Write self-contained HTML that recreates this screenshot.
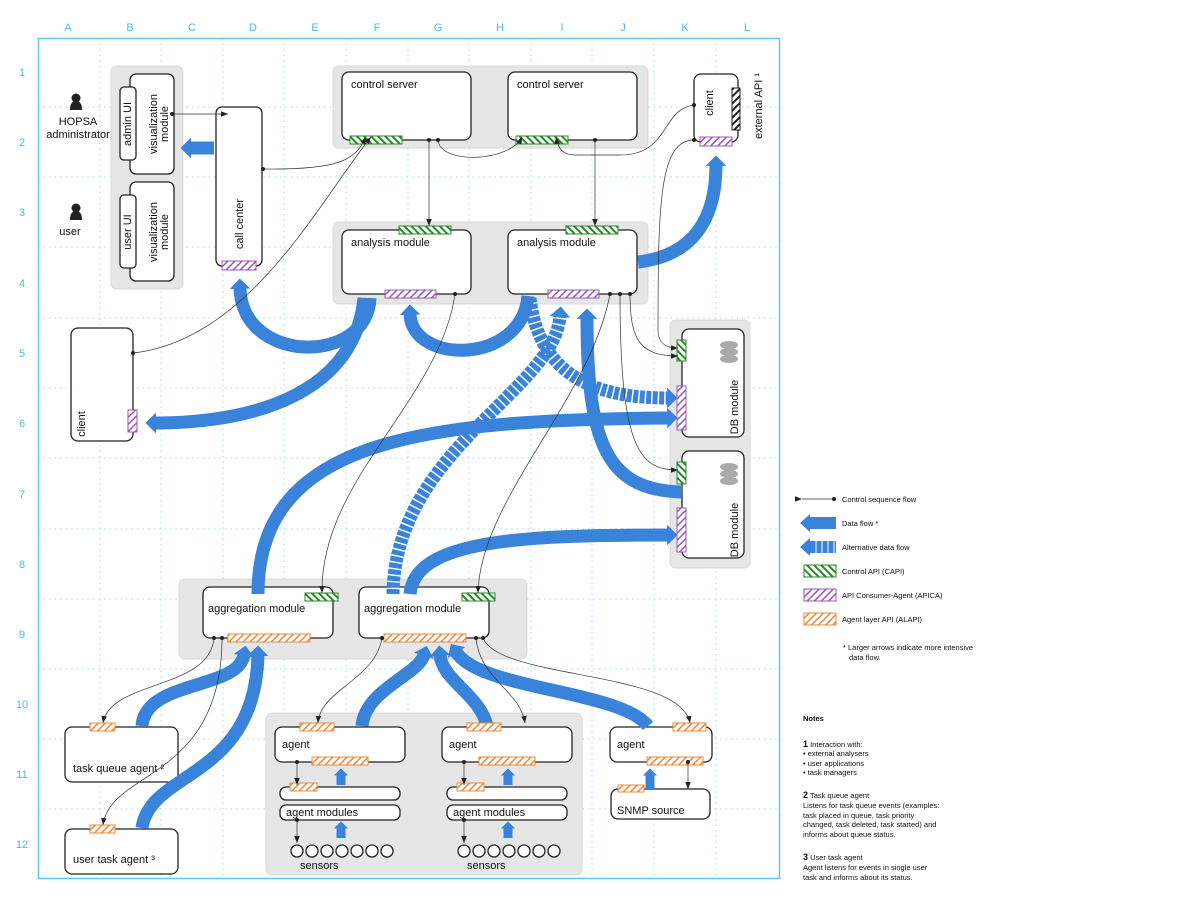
<!DOCTYPE html>
<html><head><meta charset="utf-8"><style>
html,body{margin:0;padding:0;background:#fff}
svg{display:block}
text{font-family:"Liberation Sans",sans-serif;fill:#111}
</style></head><body>
<svg width="1200" height="903" viewBox="0 0 1200 903" xmlns="http://www.w3.org/2000/svg">
<defs>
<pattern id="hg" width="5" height="5" patternUnits="userSpaceOnUse" patternTransform="rotate(-45)"><rect width="5" height="5" fill="#fff"/><rect width="2" height="5" fill="#2a8a2a"/></pattern>
<pattern id="hp" width="5" height="5" patternUnits="userSpaceOnUse" patternTransform="rotate(45)"><rect width="5" height="5" fill="#fff"/><rect width="1.5" height="5" fill="#9b59b6"/></pattern>
<pattern id="ho" width="5" height="5" patternUnits="userSpaceOnUse" patternTransform="rotate(45)"><rect width="5" height="5" fill="#fff"/><rect width="1.5" height="5" fill="#f0883a"/></pattern>
<pattern id="hk" width="5" height="5" patternUnits="userSpaceOnUse" patternTransform="rotate(45)"><rect width="5" height="5" fill="#fff"/><rect width="2" height="5" fill="#222"/></pattern>
<marker id="ba" viewBox="0 0 6 10" refX="0.5" refY="5" markerWidth="0.8" markerHeight="1.6" orient="auto" preserveAspectRatio="none"><path d="M0,0 L6,5 L0,10z" fill="#3a83da"/></marker>
<marker id="ta" viewBox="0 0 10 10" refX="10" refY="5" markerWidth="7" markerHeight="7" orient="auto" markerUnits="userSpaceOnUse"><path d="M0,1 L10,5 L0,9z" fill="#222"/></marker>
<marker id="td" viewBox="0 0 10 10" refX="5" refY="5" markerWidth="4" markerHeight="4" markerUnits="userSpaceOnUse"><circle cx="5" cy="5" r="5" fill="#222"/></marker>
</defs>

<!-- grid -->
<g stroke="#9fdcef" stroke-width="1" stroke-dasharray="1.5 4">
<line x1="100" y1="38" x2="100" y2="879"/><line x1="161" y1="38" x2="161" y2="879"/><line x1="223" y1="38" x2="223" y2="879"/><line x1="284" y1="38" x2="284" y2="879"/><line x1="346" y1="38" x2="346" y2="879"/><line x1="408" y1="38" x2="408" y2="879"/><line x1="469" y1="38" x2="469" y2="879"/><line x1="531" y1="38" x2="531" y2="879"/><line x1="592" y1="38" x2="592" y2="879"/><line x1="654" y1="38" x2="654" y2="879"/><line x1="716" y1="38" x2="716" y2="879"/>
<line x1="38" y1="107" x2="780" y2="107"/><line x1="38" y1="177" x2="780" y2="177"/><line x1="38" y1="247" x2="780" y2="247"/><line x1="38" y1="318" x2="780" y2="318"/><line x1="38" y1="388" x2="780" y2="388"/><line x1="38" y1="458" x2="780" y2="458"/><line x1="38" y1="529" x2="780" y2="529"/><line x1="38" y1="599" x2="780" y2="599"/><line x1="38" y1="669" x2="780" y2="669"/><line x1="38" y1="739" x2="780" y2="739"/><line x1="38" y1="809" x2="780" y2="809"/>
</g>
<rect x="38.5" y="38.5" width="741" height="840" fill="none" stroke="#5cc8f0" stroke-width="1.5"/>
<g font-size="11" fill="#4bbbe8" text-anchor="middle">
<text x="68" y="31" style="fill:#4bbbe8">A</text><text x="130" y="31" style="fill:#4bbbe8">B</text><text x="192" y="31" style="fill:#4bbbe8">C</text><text x="253" y="31" style="fill:#4bbbe8">D</text><text x="315" y="31" style="fill:#4bbbe8">E</text><text x="377" y="31" style="fill:#4bbbe8">F</text><text x="438" y="31" style="fill:#4bbbe8">G</text><text x="500" y="31" style="fill:#4bbbe8">H</text><text x="562" y="31" style="fill:#4bbbe8">I</text><text x="623" y="31" style="fill:#4bbbe8">J</text><text x="685" y="31" style="fill:#4bbbe8">K</text><text x="747" y="31" style="fill:#4bbbe8">L</text>
<text x="22" y="76" style="fill:#4bbbe8">1</text><text x="22" y="146" style="fill:#4bbbe8">2</text><text x="22" y="216" style="fill:#4bbbe8">3</text><text x="22" y="287" style="fill:#4bbbe8">4</text><text x="22" y="357" style="fill:#4bbbe8">5</text><text x="22" y="427" style="fill:#4bbbe8">6</text><text x="22" y="498" style="fill:#4bbbe8">7</text><text x="22" y="568" style="fill:#4bbbe8">8</text><text x="22" y="638" style="fill:#4bbbe8">9</text><text x="22" y="708" style="fill:#4bbbe8">10</text><text x="22" y="778" style="fill:#4bbbe8">11</text><text x="22" y="848" style="fill:#4bbbe8">12</text>
</g>

<!-- gray groups -->
<g fill="#e6e6e6" stroke="#d8d8d8">
<rect x="111" y="66" width="72" height="223" rx="6"/>
<rect x="333" y="66" width="315" height="82" rx="6"/>
<rect x="333" y="222" width="315" height="82" rx="6"/>
<rect x="670" y="320" width="80" height="248" rx="6"/>
<rect x="179" y="579" width="348" height="80" rx="6"/>
<rect x="266" y="713" width="316" height="162" rx="6"/>
</g>

<!-- boxes -->
<g fill="#fff" stroke="#222" stroke-width="1.3">
<rect x="130" y="74" width="44" height="100" rx="6"/>
<rect x="120" y="87" width="16" height="73" rx="4"/>
<rect x="130" y="182" width="44" height="99" rx="6"/>
<rect x="120" y="195" width="16" height="73" rx="4"/>
<rect x="216" y="107" width="46" height="159" rx="6"/>
<rect x="342" y="72" width="129" height="68" rx="7"/>
<rect x="508" y="72" width="129" height="68" rx="7"/>
<rect x="342" y="230" width="129" height="64" rx="7"/>
<rect x="508" y="230" width="129" height="64" rx="7"/>
<rect x="694" y="74" width="44" height="68" rx="7"/>
<rect x="71" y="328" width="62" height="113" rx="7"/>
<rect x="682" y="329" width="62" height="108" rx="7"/>
<rect x="682" y="451" width="62" height="107" rx="7"/>
<rect x="203" y="587" width="130" height="51" rx="7"/>
<rect x="359" y="587" width="130" height="51" rx="7"/>
<rect x="65" y="727" width="113" height="55" rx="7"/>
<rect x="65" y="829" width="113" height="45" rx="7"/>
<rect x="275" y="727" width="130" height="35" rx="7"/>
<rect x="442" y="727" width="130" height="35" rx="7"/>
<rect x="280" y="787" width="120" height="13" rx="6"/>
<rect x="280" y="805" width="120" height="15" rx="6"/>
<rect x="447" y="787" width="120" height="13" rx="6"/>
<rect x="447" y="805" width="120" height="15" rx="6"/>
<rect x="610" y="727" width="102" height="35" rx="7"/>
<rect x="611" y="789" width="99" height="30" rx="7"/>
</g>
<!-- sensors -->
<g fill="#fff" stroke="#222" stroke-width="1.3">
<circle cx="297" cy="851" r="6"/><circle cx="312" cy="851" r="6"/><circle cx="327" cy="851" r="6"/><circle cx="342" cy="851" r="6"/><circle cx="357" cy="851" r="6"/><circle cx="372" cy="851" r="6"/><circle cx="387" cy="851" r="6"/>
<circle cx="464" cy="851" r="6"/><circle cx="479" cy="851" r="6"/><circle cx="494" cy="851" r="6"/><circle cx="509" cy="851" r="6"/><circle cx="524" cy="851" r="6"/><circle cx="539" cy="851" r="6"/><circle cx="554" cy="851" r="6"/>
</g>
<!-- DB disks -->
<g fill="#aaa"><ellipse cx="729" cy="345" rx="9" ry="4"/><ellipse cx="729" cy="352" rx="9" ry="4"/><ellipse cx="729" cy="359" rx="9" ry="4"/>
<ellipse cx="729" cy="467" rx="9" ry="4"/><ellipse cx="729" cy="474" rx="9" ry="4"/><ellipse cx="729" cy="481" rx="9" ry="4"/></g>

<!-- blue data flows -->
<g fill="none" stroke="#3a83da" stroke-width="13">
<path d="M214,148 L190,148" marker-end="url(#ba)"/>
<path d="M370,298 C368,365 242,365 240,288" marker-end="url(#ba)"/>
<path d="M364,298 C355,390 260,423 155,423" marker-end="url(#ba)"/>
<path d="M528,296 C522,365 412,365 410,314" marker-end="url(#ba)"/>
<path d="M638,262 C700,255 716,210 716,165" marker-end="url(#ba)"/>
<path d="M587,495 C740,495 590,480 587,315" stroke="none"/>
<path d="M682,492 C610,490 587,450 587,318" marker-end="url(#ba)"/>
<path d="M258,594 C258,440 420,420 668,418" marker-end="url(#ba)"/>
<path d="M410,594 C415,540 520,535 668,535" marker-end="url(#ba)"/>
<path d="M142,726 C145,680 238,690 244,655" marker-end="url(#ba)"/>
<path d="M142,828 C150,770 255,780 258,655" marker-end="url(#ba)"/>
<path d="M362,726 C365,690 418,675 424,655" marker-end="url(#ba)"/>
<path d="M487,726 C480,695 442,680 440,655" marker-end="url(#ba)"/>
<path d="M648,726 C620,690 480,690 456,652" marker-end="url(#ba)"/>
</g>
<g fill="none" stroke="#3a83da" stroke-width="9">
<path d="M341,785 L341,775" marker-end="url(#ba)"/><path d="M341,838 L341,828" marker-end="url(#ba)"/>
<path d="M508,785 L508,775" marker-end="url(#ba)"/><path d="M508,838 L508,828" marker-end="url(#ba)"/>
<path d="M650,789 L650,775" marker-end="url(#ba)"/>
</g>
<g fill="none" stroke="#3a83da" stroke-width="13" stroke-dasharray="5 1.5">
<path d="M530,298 C540,385 610,398 668,398" marker-end="url(#ba)"/>
<path d="M393,594 C395,450 555,390 560,316" marker-end="url(#ba)"/>
</g>

<!-- hatch API bars -->
<g stroke-width="1">
<rect x="222" y="261" width="34" height="9" fill="url(#hp)" stroke="#9b59b6"/>
<rect x="350" y="136" width="52" height="8" fill="url(#hg)" stroke="#2a8a2a"/>
<rect x="516" y="136" width="52" height="8" fill="url(#hg)" stroke="#2a8a2a"/>
<rect x="399" y="226" width="52" height="8" fill="url(#hg)" stroke="#2a8a2a"/>
<rect x="566" y="226" width="52" height="8" fill="url(#hg)" stroke="#2a8a2a"/>
<rect x="385" y="290" width="51" height="8" fill="url(#hp)" stroke="#9b59b6"/>
<rect x="548" y="290" width="51" height="8" fill="url(#hp)" stroke="#9b59b6"/>
<rect x="732" y="88" width="8" height="42" fill="url(#hk)" stroke="#222"/>
<rect x="700" y="137" width="32" height="9" fill="url(#hp)" stroke="#9b59b6"/>
<rect x="128" y="410" width="9" height="22" fill="url(#hp)" stroke="#9b59b6"/>
<rect x="677" y="340" width="9" height="21" fill="url(#hg)" stroke="#2a8a2a"/>
<rect x="677" y="386" width="9" height="44" fill="url(#hp)" stroke="#9b59b6"/>
<rect x="677" y="462" width="9" height="22" fill="url(#hg)" stroke="#2a8a2a"/>
<rect x="677" y="508" width="9" height="44" fill="url(#hp)" stroke="#9b59b6"/>
<rect x="305" y="593" width="33" height="8" fill="url(#hg)" stroke="#2a8a2a"/>
<rect x="462" y="593" width="33" height="8" fill="url(#hg)" stroke="#2a8a2a"/>
<rect x="228" y="634" width="82" height="8" fill="url(#ho)" stroke="#f0883a"/>
<rect x="384" y="634" width="82" height="8" fill="url(#ho)" stroke="#f0883a"/>
<rect x="90" y="723" width="25" height="8" fill="url(#ho)" stroke="#f0883a"/>
<rect x="90" y="825" width="25" height="8" fill="url(#ho)" stroke="#f0883a"/>
<rect x="300" y="723" width="34" height="8" fill="url(#ho)" stroke="#f0883a"/>
<rect x="312" y="757" width="56" height="8" fill="url(#ho)" stroke="#f0883a"/>
<rect x="290" y="783" width="27" height="8" fill="url(#ho)" stroke="#f0883a"/>
<rect x="467" y="723" width="34" height="8" fill="url(#ho)" stroke="#f0883a"/>
<rect x="479" y="757" width="56" height="8" fill="url(#ho)" stroke="#f0883a"/>
<rect x="457" y="783" width="27" height="8" fill="url(#ho)" stroke="#f0883a"/>
<rect x="673" y="723" width="33" height="8" fill="url(#ho)" stroke="#f0883a"/>
<rect x="647" y="757" width="56" height="8" fill="url(#ho)" stroke="#f0883a"/>
<rect x="618" y="785" width="26" height="7" fill="url(#ho)" stroke="#f0883a"/>
</g>

<!-- thin control lines -->
<g fill="none" stroke="#333" stroke-width="0.7" marker-start="url(#td)" marker-end="url(#ta)">
<path d="M172,114 L228,114"/>
<path d="M263,169 C340,170 355,160 366,137"/>
<path d="M133,353 C250,340 320,200 371,137"/>
<path d="M429,140 L429,226"/>
<path d="M438,140 C440,165 510,162 522,137"/>
<path d="M595,140 L595,226"/>
<path d="M694,105 C660,110 670,155 620,155 L575,155 C562,155 558,148 556,137"/>
<path d="M694,140 C660,140 658,200 658,330 C658,345 668,348 678,348"/>
<path d="M630,294 C630,340 640,356 678,356"/>
<path d="M620,294 C620,450 640,470 678,470"/>
<path d="M610,294 C590,400 480,500 478,593"/>
<path d="M455,294 C440,400 320,480 322,593"/>
<path d="M214,638 C210,690 110,680 103,723"/>
<path d="M222,638 C222,780 110,770 103,825"/>
<path d="M382,638 C375,680 320,690 318,723"/>
<path d="M476,638 C480,680 520,690 525,723"/>
<path d="M483,638 C500,680 680,670 690,723"/>
<path d="M297,762 L297,785"/><path d="M297,820 L297,843"/>
<path d="M464,762 L464,785"/><path d="M464,820 L464,843"/>
<path d="M688,762 L688,789"/>
</g>

<!-- persons -->
<g fill="#222">
<circle cx="76" cy="98" r="4.5"/><path d="M70,110 Q70,101 76,101 Q82,101 82,110 Z"/>
<circle cx="76" cy="208" r="4.5"/><path d="M70,220 Q70,211 76,211 Q82,211 82,220 Z"/>
</g>

<!-- labels -->
<g font-size="11">
<text x="78" y="125" text-anchor="middle">HOPSA</text>
<text x="78" y="138" text-anchor="middle">administrator</text>
<text x="70" y="235" text-anchor="middle">user</text>
<text transform="translate(131,124) rotate(-90)" text-anchor="middle">admin UI</text>
<text transform="translate(157,124) rotate(-90)" text-anchor="middle">visualization</text>
<text transform="translate(168,124) rotate(-90)" text-anchor="middle">module</text>
<text transform="translate(131,232) rotate(-90)" text-anchor="middle">user UI</text>
<text transform="translate(157,232) rotate(-90)" text-anchor="middle">visualization</text>
<text transform="translate(168,232) rotate(-90)" text-anchor="middle">module</text>
<text transform="translate(243,224) rotate(-90)" text-anchor="middle">call center</text>
<text transform="translate(713,103) rotate(-90)" text-anchor="middle">client</text>
<text transform="translate(762,106) rotate(-90)" text-anchor="middle">external API ¹</text>
<text transform="translate(85,424) rotate(-90)" text-anchor="middle">client</text>
<text transform="translate(738,407) rotate(-90)" text-anchor="middle">DB module</text>
<text transform="translate(738,530) rotate(-90)" text-anchor="middle">DB module</text>
<text x="351" y="88">control server</text>
<text x="517" y="88">control server</text>
<text x="351" y="246">analysis module</text>
<text x="517" y="246">analysis module</text>
<text x="208" y="612">aggregation module</text>
<text x="364" y="612">aggregation module</text>
<text x="73" y="772">task queue agent ²</text>
<text x="73" y="863">user task agent ³</text>
<text x="282" y="748">agent</text>
<text x="449" y="748">agent</text>
<text x="617" y="748">agent</text>
<text x="286" y="816">agent modules</text>
<text x="453" y="816">agent modules</text>
<text x="300" y="869">sensors</text>
<text x="467" y="869">sensors</text>
<text x="617" y="814">SNMP source</text>
</g>

<!-- legend -->
<g font-size="7.5">
<line x1="802" y1="499" x2="834" y2="499" stroke="#333" stroke-width="0.8" marker-start="url(#ta)"/>
<circle cx="834" cy="499" r="2" fill="#222"/>
<text x="842" y="502">Control sequence flow</text>
<path d="M810,517 L836,517 L836,529 L810,529 L810,532 L800,523 L810,514 Z" fill="#3a83da"/>
<text x="842" y="526">Data flow *</text>
<path d="M810,541 L836,541 L836,553 L810,553 L810,556 L800,547 L810,538 Z" fill="#3a83da"/>
<g stroke="#fff" stroke-width="1"><line x1="816" y1="541" x2="816" y2="553"/><line x1="822" y1="541" x2="822" y2="553"/><line x1="828" y1="541" x2="828" y2="553"/><line x1="834" y1="541" x2="834" y2="553"/></g>
<text x="842" y="550">Alternative data flow</text>
<rect x="804" y="565" width="32" height="12" fill="url(#hg)" stroke="#2a8a2a"/>
<text x="842" y="574">Control API  (CAPI)</text>
<rect x="804" y="589" width="32" height="12" fill="url(#hp)" stroke="#9b59b6"/>
<text x="842" y="598">API Consumer-Agent (APICA)</text>
<rect x="804" y="613" width="32" height="12" fill="url(#ho)" stroke="#f0883a"/>
<text x="842" y="622">Agent layer API (ALAPI)</text>
<text x="843" y="650">*  Larger arrows indicate more intensive</text>
<text x="849" y="660">data flow.</text>
<text x="803" y="721" font-weight="bold">Notes</text>
<text x="803" y="747"><tspan font-weight="bold" font-size="9">1</tspan> Interaction with:</text>
<text x="803" y="756">•  external analysers</text>
<text x="803" y="766">•  user applications</text>
<text x="803" y="775">•  task managers</text>
<text x="803" y="798"><tspan font-weight="bold" font-size="9">2</tspan> Task queue agent</text>
<text x="803" y="808">Listens for task queue events (examples:</text>
<text x="803" y="818">task placed in queue, task priority</text>
<text x="803" y="827">changed, task deleted, task started) and</text>
<text x="803" y="837">informs about queue status.</text>
<text x="803" y="860"><tspan font-weight="bold" font-size="9">3</tspan> User task agent</text>
<text x="803" y="870">Agent listens for events in single user</text>
<text x="803" y="880">task and informs about its status.</text>
</g>
</svg>
</body></html>
